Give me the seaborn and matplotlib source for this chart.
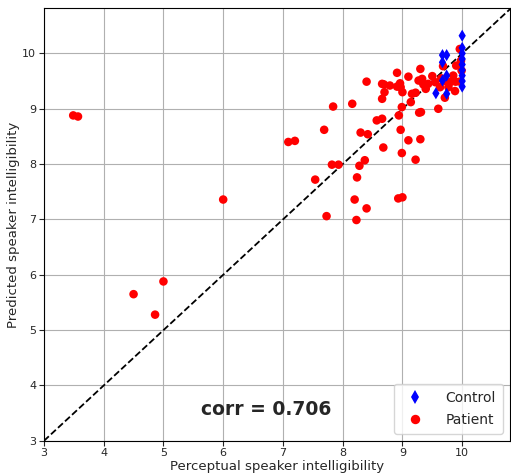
import matplotlib
matplotlib.use("Agg")
import matplotlib.pyplot as plt
import seaborn as sns
import pandas as pd

patient_x = [3.49, 3.57, 4.5, 4.86, 5.0, 6.0, 7.09, 7.2, 7.54, 7.69, 7.73, 7.82, 7.84, 7.93,
             8.16, 8.2, 8.23, 8.24, 8.28, 8.3, 8.37, 8.4, 8.42, 8.4, 8.57, 8.66, 8.66, 8.66,
             8.69, 8.68, 8.7, 8.79, 8.91, 8.91, 8.93, 8.94, 8.96, 8.97, 8.97, 8.99, 8.99, 9.0,
             9.0, 9.1, 9.1, 9.14, 9.16, 9.22, 9.22, 9.27, 9.28, 9.31, 9.3, 9.3, 9.35, 9.33,
             9.39, 9.43, 9.5, 9.6, 9.63, 9.68, 9.71, 9.77, 9.85, 9.89, 9.88, 9.9, 9.96, 9.98,
             9.99, 9.96, 9.65, 9.72, 9.55, 9.8]
patient_y = [8.88, 8.86, 5.65, 5.28, 5.88, 7.36, 8.40, 8.42, 7.72, 8.62, 7.06, 7.99, 9.04, 7.99,
             9.09, 7.36, 6.99, 7.76, 7.97, 8.57, 8.07, 7.2, 8.54, 9.49, 8.79, 8.82, 9.18, 9.45,
             9.44, 8.3, 9.30, 9.42, 9.65, 9.40, 7.38, 8.88, 9.46, 9.39, 8.62, 9.03, 8.20, 7.4,
             9.30, 9.58, 8.43, 9.12, 9.27, 9.29, 8.08, 9.51, 8.93, 8.94, 8.45, 9.72, 9.44, 9.54,
             9.36, 9.45, 9.59, 9.0, 9.39, 9.77, 9.2, 9.39, 9.6, 9.49, 9.32, 9.78, 10.08, 9.87,
             9.69, 9.49, 9.55, 9.5, 9.48, 9.48]
control_x = [10.0, 10.0, 10.0, 10.0, 10.0, 10.0, 10.0, 10.0, 10.0,
             9.67, 9.74, 9.67, 9.74, 9.67, 9.56, 9.74]
control_y = [10.32, 10.1, 10.0, 9.9, 9.8, 9.7, 9.6, 9.5, 9.4,
             9.97, 9.97, 9.84, 9.6, 9.51, 9.28, 9.27]
groups = ["Control", "Patient"]
ticks = [3, 4, 5, 6, 7, 8, 9, 10]
corr_text = "corr = 0.706"

df = pd.DataFrame({
    "perc": patient_x + control_x,
    "pred": patient_y + control_y,
    "group": ["Patient"] * len(patient_x) + ["Control"] * len(control_x),
})

sns.set_style("ticks")
plt.rcParams["font.family"] = ["DejaVu Sans"]
fig = plt.figure(figsize=(5.11, 4.73), dpi=100)
ax = fig.add_axes([0.086, 0.068, 0.912, 0.915])

ax.grid(True, color="#b0b0b0", linewidth=0.8)
ax.set_axisbelow(True)
ax.plot([3, 10.8], [3, 10.8], "k--", linewidth=1.3, zorder=1)

sns.scatterplot(data=df, x="perc", y="pred", hue="group", style="group",
                hue_order=groups, style_order=groups,
                palette={"Control": "blue", "Patient": "red"},
                markers={"Control": "d", "Patient": "o"},
                s=38, linewidth=0, ax=ax, zorder=3)

ax.set_xlim(3, 10.8)
ax.set_ylim(3, 10.82)
ax.set_xticks(ticks)
ax.set_yticks(ticks)
ax.tick_params(labelsize=8, length=3.5, width=0.8, pad=2)
ax.set_xlabel("Perceptual speaker intelligibility", fontsize=9.5, labelpad=1)
ax.set_ylabel("Predicted speaker intelligibility", fontsize=9.5, labelpad=2)
for sp in ax.spines.values():
    sp.set_color("black")
    sp.set_linewidth(0.8)

ax.text(6.72, 3.56, corr_text, ha="center", va="center", fontsize=13.5, fontweight="bold")

leg = ax.legend(loc="lower right", fontsize=10, markerscale=1.1, framealpha=0.8,
                handletextpad=1.2, labelspacing=0.6, borderpad=0.5)

fig.savefig("out.png", dpi=100)
